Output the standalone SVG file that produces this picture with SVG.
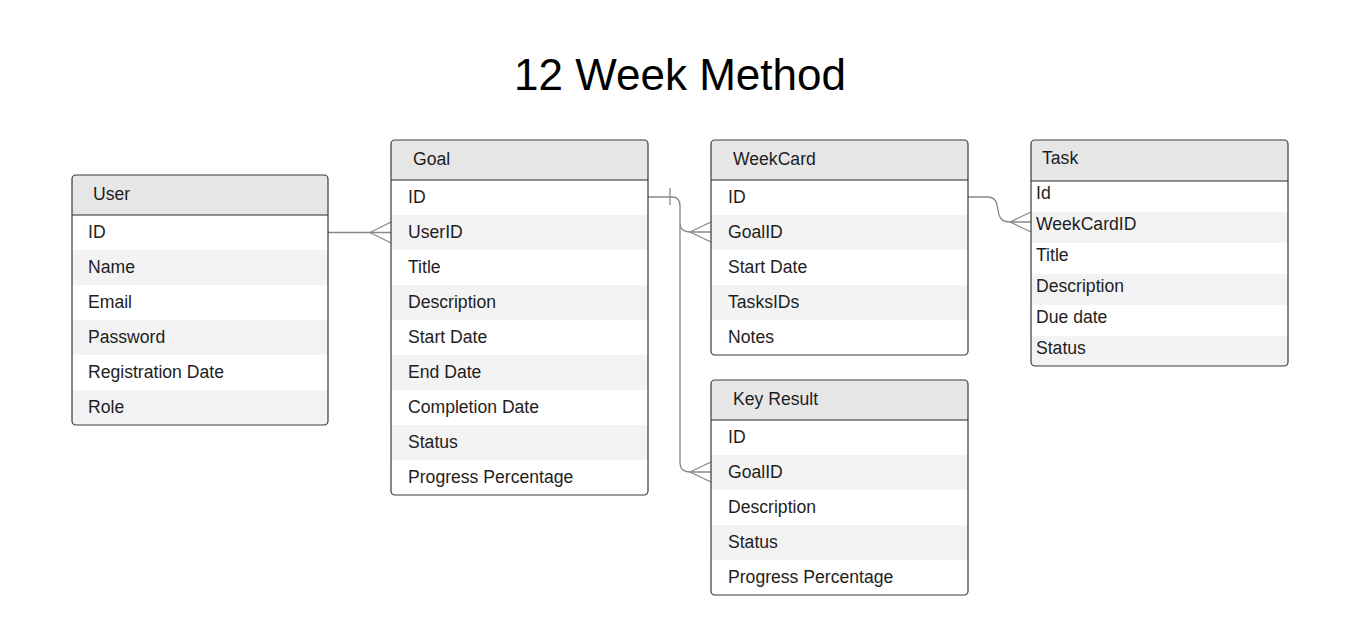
<svg xmlns="http://www.w3.org/2000/svg" width="1360" height="640" viewBox="0 0 1360 640">
<style>
  text { font-family: "Liberation Sans", Arial, sans-serif; font-size: 17.6px; fill: #1e1e1e; }
  .title { font-size: 44px; fill: #000; }
  .hdr { fill: #e6e6e6; }
  .alt { fill: #f3f3f3; }
  .wht { fill: #ffffff; }
  .outline { fill: none; stroke: #3a3a3a; stroke-width: 1.2; }
  .sep { stroke: #2a2a2a; stroke-width: 1.2; }
  .conn { fill: none; stroke: #888888; stroke-width: 1.3; }
</style>
<defs>
  <clipPath id="cUser"><rect x="72" y="175" width="256" height="250" rx="4"/></clipPath>
  <clipPath id="cGoal"><rect x="391" y="140" width="257" height="355" rx="4"/></clipPath>
  <clipPath id="cWeek"><rect x="711" y="140" width="257" height="215" rx="4"/></clipPath>
  <clipPath id="cKey"><rect x="711" y="380" width="257" height="215" rx="4"/></clipPath>
  <clipPath id="cTask"><rect x="1031" y="140" width="257" height="226" rx="4"/></clipPath>
</defs>
<rect x="0" y="0" width="1360" height="640" fill="#ffffff"/>
<text class="title" x="680" y="90" text-anchor="middle">12 Week Method</text>

<g id="connectors">
  <path class="conn" d="M328,232.5 H391"/>
  <path class="conn" d="M370,232.5 L391,222 M370,232.5 L391,243"/>
  <path class="conn" d="M648,197 H672 Q680,197 680,206 V223 Q680,232 690,232 H711"/>
  <path class="conn" d="M690,232 L711,222 M690,232 L711,242"/>
  <path class="conn" d="M670,188 V205"/>
  <path class="conn" d="M680,223 V463 Q680,472 690,472 H711"/>
  <path class="conn" d="M690,472 L711,462 M690,472 L711,482"/>
  <path class="conn" d="M968,197 H987 C996,197 997,203 998,210 C999,218 1002,222 1010,222 H1031"/>
  <path class="conn" d="M1010,222 L1031,212 M1010,222 L1031,232"/>
</g>

<g id="user">
  <g clip-path="url(#cUser)">
    <rect class="wht" x="72" y="175" width="256" height="250"/>
    <rect class="hdr" x="72" y="175" width="256" height="40"/>
    <rect class="alt" x="72" y="250" width="256" height="35"/>
    <rect class="alt" x="72" y="320" width="256" height="35"/>
    <rect class="alt" x="72" y="390" width="256" height="35"/>
  </g>
  <line class="sep" x1="72" y1="215" x2="328" y2="215"/>
  <rect class="outline" x="72" y="175" width="256" height="250" rx="4"/>
  <text x="93" y="200">User</text>
  <text x="88" y="238">ID</text>
  <text x="88" y="273">Name</text>
  <text x="88" y="308">Email</text>
  <text x="88" y="343">Password</text>
  <text x="88" y="378">Registration Date</text>
  <text x="88" y="413">Role</text>
</g>

<g id="goal">
  <g clip-path="url(#cGoal)">
    <rect class="wht" x="391" y="140" width="257" height="355"/>
    <rect class="hdr" x="391" y="140" width="257" height="40"/>
    <rect class="alt" x="391" y="215" width="257" height="35"/>
    <rect class="alt" x="391" y="285" width="257" height="35"/>
    <rect class="alt" x="391" y="355" width="257" height="35"/>
    <rect class="alt" x="391" y="425" width="257" height="35"/>
  </g>
  <line class="sep" x1="391" y1="180" x2="648" y2="180"/>
  <rect class="outline" x="391" y="140" width="257" height="355" rx="4"/>
  <text x="413" y="165">Goal</text>
  <text x="408" y="203">ID</text>
  <text x="408" y="238">UserID</text>
  <text x="408" y="273">Title</text>
  <text x="408" y="308">Description</text>
  <text x="408" y="343">Start Date</text>
  <text x="408" y="378">End Date</text>
  <text x="408" y="413">Completion Date</text>
  <text x="408" y="448">Status</text>
  <text x="408" y="483">Progress Percentage</text>
</g>

<g id="weekcard">
  <g clip-path="url(#cWeek)">
    <rect class="wht" x="711" y="140" width="257" height="215"/>
    <rect class="hdr" x="711" y="140" width="257" height="40"/>
    <rect class="alt" x="711" y="215" width="257" height="35"/>
    <rect class="alt" x="711" y="285" width="257" height="35"/>
  </g>
  <line class="sep" x1="711" y1="180" x2="968" y2="180"/>
  <rect class="outline" x="711" y="140" width="257" height="215" rx="4"/>
  <text x="733" y="165">WeekCard</text>
  <text x="728" y="203">ID</text>
  <text x="728" y="238">GoalID</text>
  <text x="728" y="273">Start Date</text>
  <text x="728" y="308">TasksIDs</text>
  <text x="728" y="343">Notes</text>
</g>

<g id="keyresult">
  <g clip-path="url(#cKey)">
    <rect class="wht" x="711" y="380" width="257" height="215"/>
    <rect class="hdr" x="711" y="380" width="257" height="40"/>
    <rect class="alt" x="711" y="455" width="257" height="35"/>
    <rect class="alt" x="711" y="525" width="257" height="35"/>
  </g>
  <line class="sep" x1="711" y1="420" x2="968" y2="420"/>
  <rect class="outline" x="711" y="380" width="257" height="215" rx="4"/>
  <text x="733" y="405">Key Result</text>
  <text x="728" y="443">ID</text>
  <text x="728" y="478">GoalID</text>
  <text x="728" y="513">Description</text>
  <text x="728" y="548">Status</text>
  <text x="728" y="583">Progress Percentage</text>
</g>

<g id="task">
  <g clip-path="url(#cTask)">
    <rect class="wht" x="1031" y="140" width="257" height="226"/>
    <rect class="hdr" x="1031" y="140" width="257" height="41"/>
    <rect class="alt" x="1031" y="212" width="257" height="31"/>
    <rect class="alt" x="1031" y="274" width="257" height="31"/>
    <rect class="alt" x="1031" y="336" width="257" height="30"/>
  </g>
  <line class="sep" x1="1031" y1="181" x2="1288" y2="181"/>
  <rect class="outline" x="1031" y="140" width="257" height="226" rx="4"/>
  <text x="1042" y="164">Task</text>
  <text x="1036" y="199">Id</text>
  <text x="1036" y="230">WeekCardID</text>
  <text x="1036" y="261">Title</text>
  <text x="1036" y="292">Description</text>
  <text x="1036" y="323">Due date</text>
  <text x="1036" y="354">Status</text>
</g>
</svg>
